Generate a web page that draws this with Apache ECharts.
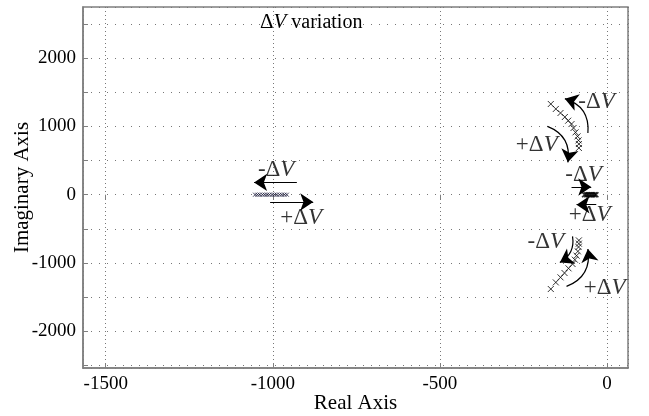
<!DOCTYPE html>
<html>
<head>
<meta charset="utf-8">
<script src="https://cdn.jsdelivr.net/npm/echarts@6/dist/echarts.min.js"></script>
<style>
html,body{margin:0;padding:0;background:#fff;}
#chart{width:649px;height:416px;}
</style>
</head>
<body>
<div id="chart"></div>
<script>
// ---- axis ranges ----
const xRange = [-1568, 63];
const yRange = [-2541, 2752];

// ---- poles (real, imaginary) ----
const leftClusterRe = [-1053,-1046,-1039,-1031,-1024,-1017,-1010,-1002,-995,-988,-980,-973,-965,-958];
const leftClusterIm = [0,0,0,0,0,0,0,0,0,0,0,0,0,0];
const upperRe = [-168,-153,-139,-126,-116,-106,-100,-94,-88,-85,-84,-84];
const upperIm = [1330,1257,1198,1139,1085,1036,978,914,855,796,743,685];
const lowerRe = [-84,-84,-85,-87,-91,-96,-103,-115,-127,-139,-153,-168];
const lowerIm = [-670,-718,-767,-831,-894,-953,-1016,-1080,-1148,-1212,-1286,-1383];
const nearRe = [-67,-62,-57,-52,-47,-42,-37,-33];
const nearIm = [0,0,0,0,0,0,0,0];

// ---- annotation arrows (from -> to, in data units) ----
const arrowFromRe = [-928, -1008, -106, -32, -57, -178, -103, -121];
const arrowFromIm = [180, -107, 113, -147, 905, 1001, -611, -1345];
const arrowToRe   = [-1056, -879, -47, -91, -126, -117, -141, -57];
const arrowToIm   = [180, -107, 113, -147, 1408, 474, -993, -796];
const arrowBend   = [0, 0, 0, 0, -0.4, 0.4, 0.35, -0.4];

// ---- annotation labels ----
const labelRe = [-990, -915, -31, -210, -70, -52, -183, -7];
const labelIm = [367, -337, 1364, 733, 293, -293, -689, -1364];
const labelSign = ['-', '+', '-', '+', '-', '+', '-', '+'];

const serif = "'Liberation Serif','DejaVu Serif',serif";
const gray = '#7f7f7f';

function pts(re, im) { return re.map((r, i) => [r, im[i]]); }

const crossPath = 'path://M0,0L10,10M10,0L0,10';

const chart = echarts.init(document.getElementById('chart'), null, {renderer: 'canvas'});

const richLabel = {
  s: {fontFamily: serif, fontSize: 23, color: '#000', fontWeight: 'normal'},
  v: {fontFamily: serif, fontSize: 23, fontStyle: 'italic', color: '#000', fontWeight: 'normal'}
};

const option = {
  backgroundColor: '#fff',
  animation: false,
  title: {
    left: 255, top: 7,
    text: '{d|Δ}{v|V}{t| variation}',
    textStyle: {
      fontWeight: 'normal',
      rich: {
        d: {fontFamily: serif, fontSize: 21, color: '#000', fontWeight: 'normal'},
        v: {fontFamily: serif, fontSize: 21, fontStyle: 'italic', color: '#000', fontWeight: 'normal'},
        t: {fontFamily: serif, fontSize: 20, color: '#000', fontWeight: 'normal'}
      }
    }
  },
  grid: {
    left: 83, right: 21, top: 7, bottom: 48,
    outerBoundsMode: 'none', containLabel: false,
    show: true, borderColor: gray, borderWidth: 1.5, backgroundColor: 'transparent'
  },
  xAxis: [{
    type: 'value', min: xRange[0], max: xRange[1], splitNumber: 4,
    name: 'Real Axis', nameLocation: 'middle', nameGap: 25, nameMoveOverlap: false,
    nameTextStyle: {fontFamily: serif, fontSize: 21, color: '#000'},
    axisLine: {show: true, onZero: false, lineStyle: {color: gray, width: 1.5}},
    axisTick: {show: true, inside: true, length: 5, lineStyle: {color: gray}},
    axisLabel: {
      fontFamily: serif, fontSize: 19, color: '#000', margin: 7,
      showMinLabel: false, showMaxLabel: false,
      formatter: v => (Math.round(v) % 500 === 0 ? String(v) : '')
    },
    splitLine: {show: true, lineStyle: {color: '#777', type: [1, 3], width: 1}}
  }, {
    type: 'value', min: xRange[0], max: xRange[1], splitNumber: 4, position: 'top',
    axisLine: {show: false}, axisLabel: {show: false}, splitLine: {show: false},
    axisTick: {show: true, inside: true, length: 5, lineStyle: {color: gray}}
  }],
  yAxis: [{
    type: 'value', min: yRange[0], max: yRange[1], splitNumber: 10,
    name: 'Imaginary Axis', nameLocation: 'middle', nameGap: 50, nameMoveOverlap: false,
    nameTextStyle: {fontFamily: serif, fontSize: 21, color: '#000'},
    axisLine: {show: true, onZero: false, lineStyle: {color: gray, width: 1.5}},
    axisTick: {show: true, inside: true, length: 5, lineStyle: {color: gray}},
    axisLabel: {
      fontFamily: serif, fontSize: 19, color: '#000', margin: 7,
      showMinLabel: false, showMaxLabel: false,
      formatter: v => (Math.round(v) % 1000 === 0 ? String(v) : '')
    },
    splitLine: {show: true, lineStyle: {color: '#777', type: [1, 7], width: 1}}
  }],
  series: [
    {
      type: 'scatter', name: 'left', symbol: crossPath, symbolSize: 4,
      itemStyle: {color: 'none', borderColor: '#1a1a3a', borderWidth: 1},
      data: pts(leftClusterRe, leftClusterIm), z: 5
    },
    {
      type: 'scatter', name: 'upper', symbol: crossPath, symbolSize: 6,
      itemStyle: {color: 'none', borderColor: '#000', borderWidth: 1},
      data: pts(upperRe, upperIm), z: 5
    },
    {
      type: 'scatter', name: 'lower', symbol: crossPath, symbolSize: 6,
      itemStyle: {color: 'none', borderColor: '#000', borderWidth: 1},
      data: pts(lowerRe, lowerIm), z: 5
    },
    {
      type: 'scatter', name: 'near', symbol: crossPath, symbolSize: 5,
      itemStyle: {color: 'none', borderColor: '#000', borderWidth: 1.6},
      data: pts(nearRe, nearIm), z: 5
    },
    {
      type: 'lines', name: 'arrows', coordinateSystem: 'cartesian2d',
      silent: true, z: 6,
      symbol: ['none', 'arrow'], symbolSize: 13,
      lineStyle: {color: '#000', width: 1.2, opacity: 1},
      data: arrowFromRe.map((r, i) => ({
        coords: [[r, arrowFromIm[i]], [arrowToRe[i], arrowToIm[i]]],
        lineStyle: {curveness: arrowBend[i]}
      }))
    },
    {
      type: 'scatter', name: 'labels', symbolSize: 0, silent: true, z: 6,
      data: labelRe.map((r, i) => [r, labelIm[i]]),
      label: {
        show: true, position: 'inside',
        formatter: p => '{s|' + labelSign[p.dataIndex] + 'Δ}{v|V}',
        rich: richLabel
      }
    }
  ]
};
chart.setOption(option);
</script>
</body>
</html>
